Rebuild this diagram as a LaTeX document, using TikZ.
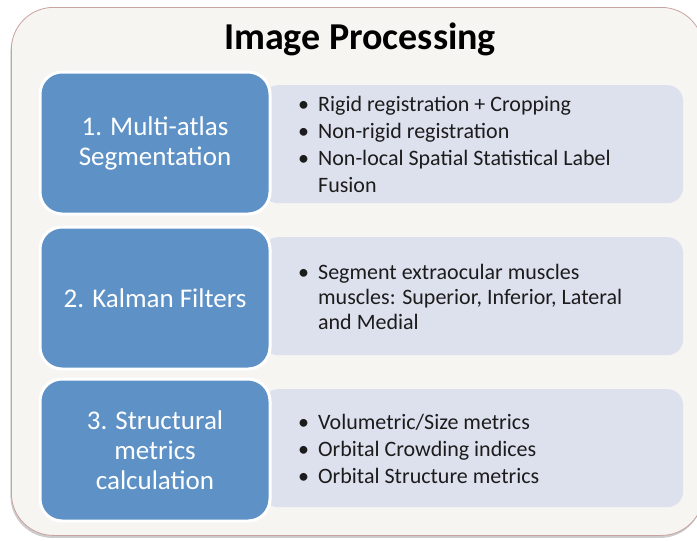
\documentclass[tikz,border=0pt]{standalone}
\usepackage{fontspec}
\setmainfont{Carlito}
\usetikzlibrary{shadows}

\definecolor{panelfill}{HTML}{F6F5F1}
\definecolor{panelline}{HTML}{C9A3A0}
\definecolor{stepblue}{HTML}{5E92C7}
\definecolor{detailfill}{HTML}{DDE1EE}
\definecolor{textdark}{HTML}{1C1C1C}

\newcommand{\bulletlist}[1]{\begin{tabular}{@{}l@{\hspace{9pt}}l@{}}#1\end{tabular}}

\begin{document}
\begin{tikzpicture}[x=1pt,y=-1pt,
  panel/.style={draw=panelline, line width=0.8pt, fill=panelfill,
    rounded corners=42pt, anchor=north west,
    drop shadow={shadow xshift=-1pt, shadow yshift=-2.5pt, opacity=0.4}},
  stepbox/.style={draw=white, line width=3pt, fill=stepblue,
    rounded corners=22pt, minimum width=230pt, minimum height=142pt,
    text=white, align=center, font=\fontsize{27}{30}\selectfont,
    drop shadow={shadow xshift=0pt, shadow yshift=-1pt, opacity=0.2}},
  detailbox/.style={fill=detailfill, rounded corners=16pt, anchor=north west,
    minimum width=421pt, minimum height=118pt},
  detailtext/.style={anchor=west, inner sep=0pt, text=textdark,
    font=\fontsize{22}{27}\selectfont},
  titletext/.style={font=\bfseries\fontsize{38}{42}\selectfont, text=black}
]
\useasboundingbox (0,0) rectangle (697,541);

% outer panel and heading
\node[panel, minimum width=692pt, minimum height=528pt] (panel) at (11,7) {};
\node[titletext] (title) at (360,39) {Image Processing};

% light detail panels behind the step boxes
\node[detailbox] (d1) at (262,85)  {};
\node[detailbox] (d2) at (262,237) {};
\node[detailbox] (d3) at (262,389) {};

% the three processing steps
\node[stepbox] (s1) at (155,143) {1. Multi-atlas\\Segmentation};
\node[stepbox] (s2) at (155,298) {2. Kalman Filters};
\node[stepbox] (s3) at (155,450) {3. Structural\\metrics\\calculation};

% bullet lists
\node[detailtext] (t1) at (298,146.5) {\bulletlist{%
  •&Rigid registration + Cropping\\
  •&Non-rigid registration\\
  •&Non-local Spatial Statistical Label\\
   &Fusion}};
\node[detailtext, font=\fontsize{22}{25}\selectfont] (t2) at (298,299) {\bulletlist{%
  •&Segment extraocular muscles\\
   &muscles: Superior, Inferior, Lateral\\
   &and Medial}};
\node[detailtext] (t3) at (298,451.5) {\bulletlist{%
  •&Volumetric/Size metrics\\
  •&Orbital Crowding indices\\
  •&Orbital Structure metrics}};
\end{tikzpicture}
\end{document}
